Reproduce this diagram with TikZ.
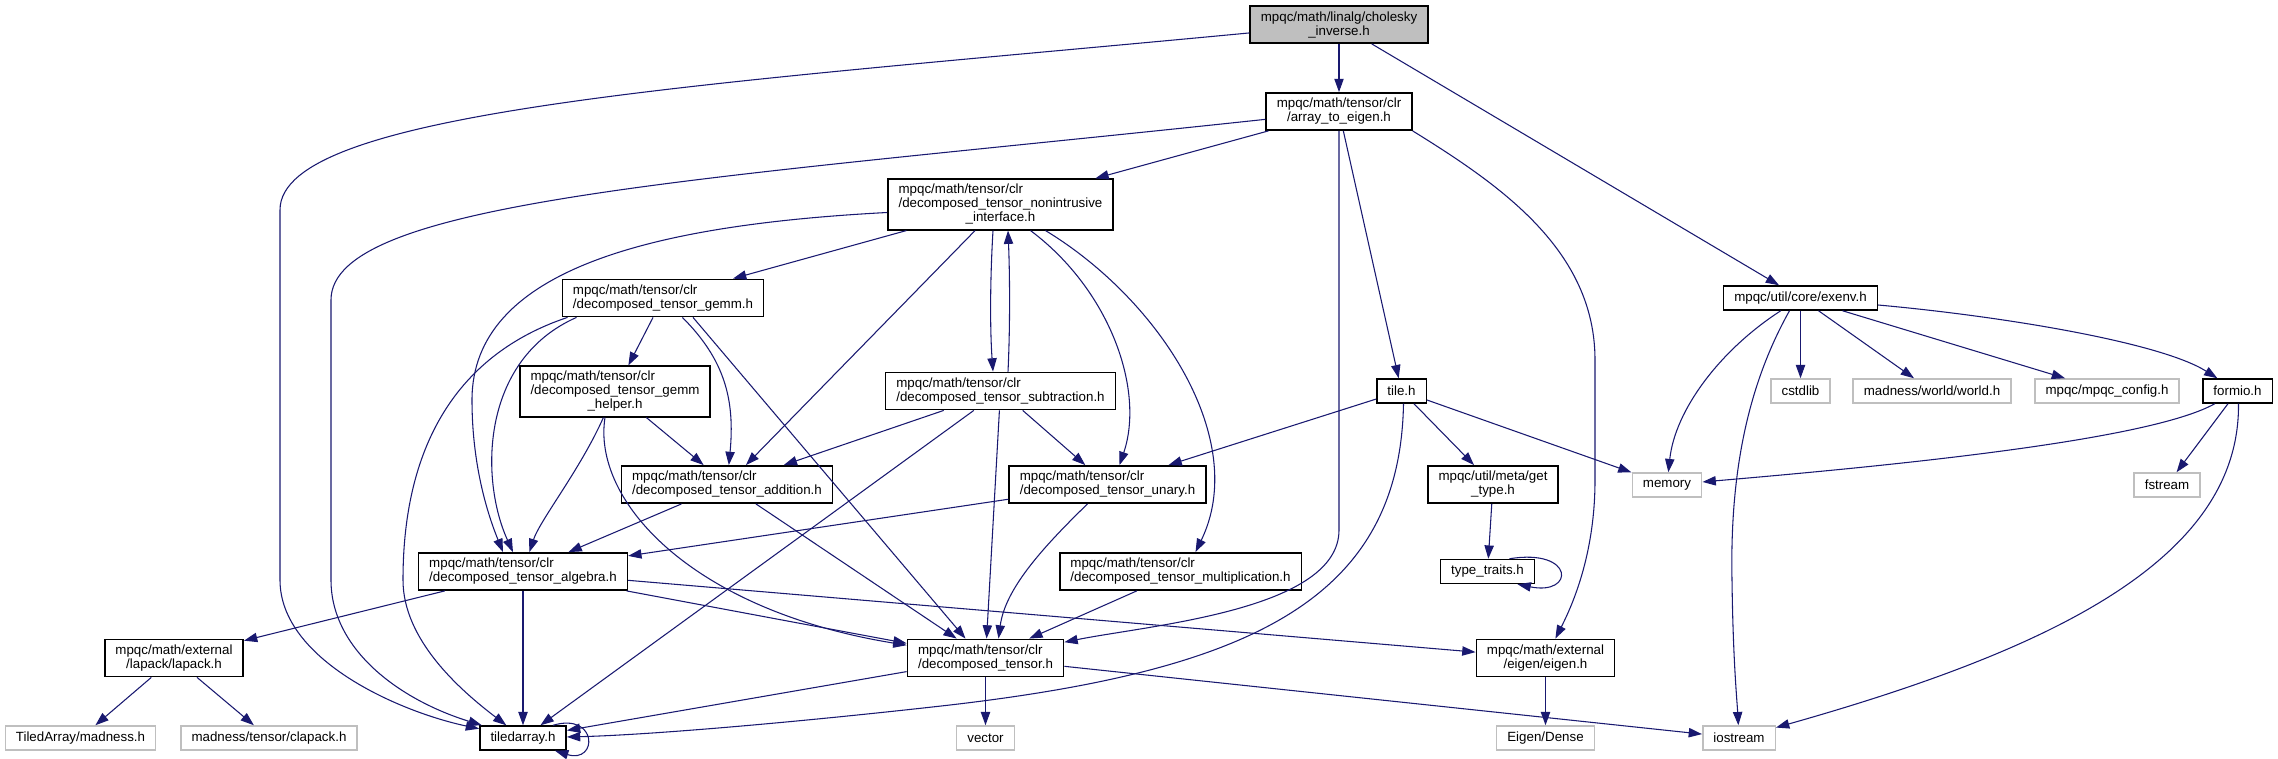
\documentclass[tikz,border=0pt]{standalone}
\usepackage{fontspec}
\setmainfont{Liberation Sans}
\usetikzlibrary{arrows.meta}
\definecolor{edgeblue}{HTML}{191970}
\definecolor{rootgray}{HTML}{BFBFBF}
\definecolor{sysgray}{HTML}{BFBFBF}

\begin{document}
\begin{tikzpicture}[x=0.75pt, y=-0.75pt,
  file/.style={draw=black, line width=1.1pt, fill=white, inner xsep=8pt, inner ysep=1pt,
    minimum height=18pt, font=\fontsize{10}{10.5}\selectfont},
  rootfile/.style={file, fill=rootgray},
  sysfile/.style={file, draw=sysgray},
  two/.style={minimum height=28pt},
  three/.style={minimum height=38pt},
  inc/.style={draw=edgeblue, line width=0.8pt, -{Triangle[length=10pt,width=7pt]}}]

\useasboundingbox (0,0) rectangle (2278,759);

% root file
\node[rootfile, two, align=center] (chol) at (1339,24.5) {mpqc/math/linalg/cholesky\\\_inverse.h};

% first level
\node[file, two, align=center] (ate) at (1339,111.5) {mpqc/math/tensor/clr\\/array\_to\_eigen.h};
\node[file, three] (nonint) at (1000.5,204.5) {\begin{tabular}{@{}l@{}}mpqc/math/tensor/clr\\/decomposed\_tensor\_nonintrusive\\\multicolumn{1}{@{}c@{}}{\_interface.h}\end{tabular}};
\node[file, two, align=left] (gemm) at (663,298) {mpqc/math/tensor/clr\\/decomposed\_tensor\_gemm.h};
\node[file] (exenv) at (1800.5,298) {mpqc/util/core/exenv.h};

% middle rows
\node[file, three] (helper) at (615,391.5) {\begin{tabular}{@{}l@{}}mpqc/math/tensor/clr\\/decomposed\_tensor\_gemm\\\multicolumn{1}{@{}c@{}}{\_helper.h}\end{tabular}};
\node[file, two, align=left] (sub) at (1000.5,391) {mpqc/math/tensor/clr\\/decomposed\_tensor\_subtraction.h};
\node[file] (tile) at (1401.5,391) {tile.h};
\node[sysfile] (cstdlib) at (1800.5,391) {cstdlib};
\node[sysfile] (world) at (1932,391) {madness/world/world.h};
\node[sysfile] (config) at (2107,391) {mpqc/mpqc\_config.h};
\node[file] (formio) at (2237.5,391) {formio.h};

\node[file, two, align=left] (add) at (727,484.5) {mpqc/math/tensor/clr\\/decomposed\_tensor\_addition.h};
\node[file, two, align=left] (unary) at (1107.5,484.5) {mpqc/math/tensor/clr\\/decomposed\_tensor\_unary.h};
\node[file, two, align=center] (gettype) at (1493,484.5) {mpqc/util/meta/get\\\_type.h};
\node[sysfile] (memory) at (1667,485) {memory};
\node[sysfile] (fstream) at (2167,485) {fstream};

\node[file, two, align=left] (algebra) at (523,571.5) {mpqc/math/tensor/clr\\/decomposed\_tensor\_algebra.h};
\node[file, two, align=left] (mult) at (1180.5,571.5) {mpqc/math/tensor/clr\\/decomposed\_tensor\_multiplication.h};
\node[file] (traits) at (1487.5,571.5) {type\_traits.h};

\node[file, two, align=center] (lapack) at (174,658) {mpqc/math/external\\/lapack/lapack.h};
\node[file, two, align=left] (dt) at (985.5,658) {mpqc/math/tensor/clr\\/decomposed\_tensor.h};
\node[file, two, align=center] (eigen) at (1545.5,658) {mpqc/math/external\\/eigen/eigen.h};

% bottom row
\node[sysfile] (tamad) at (80.5,738) {TiledArray/madness.h};
\node[sysfile] (clapack) at (269,738) {madness/tensor/clapack.h};
\node[file] (ta) at (523,738) {tiledarray.h};
\node[sysfile] (vector) at (985.5,738) {vector};
\node[sysfile] (dense) at (1545.5,738) {Eigen/Dense};
\node[sysfile] (iostream) at (1739,738) {iostream};

% includes of the root file
\draw[inc] (chol) .. controls (700,85) and (280,110) .. (280,210) -- (280,580) .. controls (280,660) and (400,712) .. (ta);
\draw[inc] (chol) -- (ate);
\draw[inc] (chol) -- (exenv);

% array_to_eigen
\draw[inc] (ate) .. controls (700,180) and (331,200) .. (331,300) -- (331,580) .. controls (331,650) and (400,700) .. (ta);
\draw[inc] (ate) -- (nonint);
\draw[inc] (ate.south) -- (1339,530) .. controls (1339,610) and (1150,625) .. (dt);
\draw[inc] (ate) -- (tile);
\draw[inc] (ate.south east) .. controls (1500,185) and (1595,250) .. (1595,360) -- (1595,480) .. controls (1595,550) and (1575,600) .. (eigen);

% nonintrusive interface
\draw[inc] ([shift={(0,8)}]nonint.west) .. controls (650,225) and (472,270) .. (472,400) .. controls (472,470) and (490,520) .. ([shift={(-20,0)}]algebra.north);
\draw[inc] (nonint) -- (gemm);
\draw[inc] (nonint) -- (add);
\draw[inc] ([shift={(-7.5,0)}]nonint.south) .. controls (990,280) and (990,330) .. ([shift={(-7.5,0)}]sub.north);
\draw[inc] ([shift={(7.5,0)}]sub.north) .. controls (1010,330) and (1010,280) .. ([shift={(7.5,0)}]nonint.south);
\draw[inc] ([shift={(30,0)}]nonint.south) .. controls (1110,290) and (1145,390) .. ([shift={(12,0)}]unary.north);
\draw[inc] ([shift={(45,0)}]nonint.south) .. controls (1160,300) and (1250,440) .. ([shift={(15,0)}]mult.north);

% gemm
\draw[inc] (gemm) -- (helper);
\draw[inc] (gemm) .. controls (725,360) and (735,400) .. (add);
\draw[inc] ([shift={(15,0)}]gemm.south west) .. controls (480,360) and (480,480) .. ([shift={(-10,0)}]algebra.north);
\draw[inc] ([shift={(6,0)}]gemm.south west) .. controls (470,350) and (403,430) .. (403,580) .. controls (403,640) and (460,690) .. (ta);
\draw[inc] ([shift={(30,0)}]gemm.south) -- ([shift={(-20,0)}]dt.north);

% gemm helper
\draw[inc] (helper) .. controls (580,470) and (540,520) .. (algebra);
\draw[inc] (helper) -- (add);
\draw[inc] ([shift={(-10,0)}]helper.south) .. controls (592,500) and (690,610) .. (dt);

% subtraction
\draw[inc] (sub) -- (add);
\draw[inc] (sub) -- (unary);
\draw[inc] (sub) -- (dt);
\draw[inc] (sub) -- (ta);

% tile
\draw[inc] (tile) -- (unary);
\draw[inc] (tile) -- (gettype);
\draw[inc] (tile) -- (memory);
\draw[inc] ([shift={(2,0)}]tile.south) .. controls (1400,600) and (1250,670) .. (950,705) .. controls (800,722) and (650,735) .. (ta);

% addition, unary, multiplication
\draw[inc] (add) -- (algebra);
\draw[inc] (add) -- (dt);
\draw[inc] (unary) -- (algebra);
\draw[inc] ([shift={(-20,0)}]unary.south) .. controls (1040,550) and (1005,590) .. ([shift={(13,0)}]dt.north);
\draw[inc] (mult) -- (dt);

% algebra
\draw[inc] (algebra) -- (lapack);
\draw[inc] (algebra) -- (ta);
\draw[inc] (algebra) -- (dt);
\draw[inc] (algebra) -- (eigen);

% decomposed tensor
\draw[inc] (dt) -- (ta);
\draw[inc] (dt) -- (vector);
\draw[inc] (dt) -- (iostream);

% leaves
\draw[inc] (lapack) -- (tamad);
\draw[inc] (lapack) -- (clapack);
\draw[inc] (eigen) -- (dense);
\draw[inc] (gettype) -- (traits);
\draw[inc] ([shift={(22,0)}]traits.north) .. controls (1575,548) and (1575,596) .. ([shift={(30,0)}]traits.south);
\draw[inc] ([shift={(30,0)}]ta.north) .. controls (598,712) and (598,764) .. ([shift={(32,0)}]ta.south);

% exenv
\draw[inc] (exenv) .. controls (1720,350) and (1675,410) .. (memory);
\draw[inc] ([shift={(-11,0)}]exenv.south) .. controls (1745,390) and (1730,480) .. (1732,580) .. controls (1733,660) and (1737,700) .. (iostream);
\draw[inc] (exenv) -- (cstdlib);
\draw[inc] (exenv) -- (world);
\draw[inc] (exenv) -- (config);
\draw[inc] (exenv) .. controls (2000,316) and (2160,342) .. (formio);

% formio
\draw[inc] (formio) .. controls (2150,440) and (1900,465) .. (memory);
\draw[inc] (formio) -- (fstream);
\draw[inc] ([shift={(1,0)}]formio.south) .. controls (2240,560) and (2050,650) .. (iostream);

\end{tikzpicture}
\end{document}
